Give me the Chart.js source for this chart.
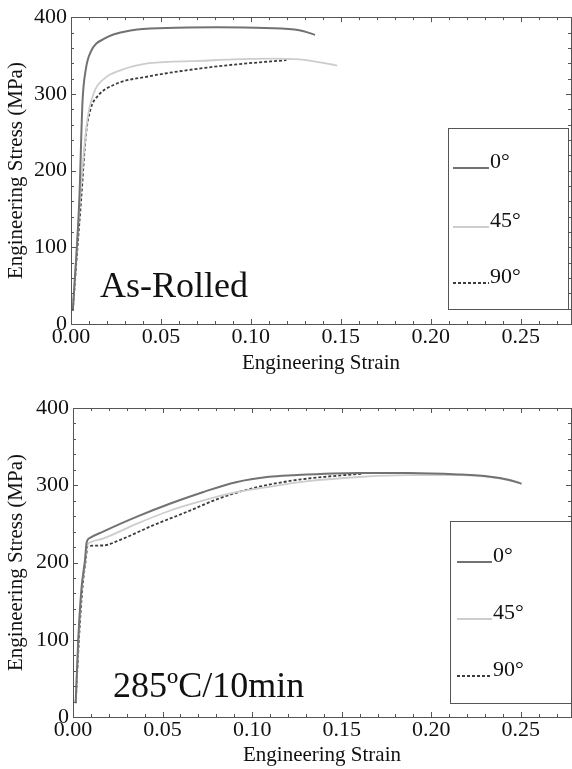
<!DOCTYPE html>
<html>
<head>
<meta charset="utf-8">
<script src="https://cdn.jsdelivr.net/npm/chart.js@4.4.1/dist/chart.umd.min.js"></script>
<style>
  html, body { margin: 0; padding: 0; background: #fff; }
  canvas { display: block; }
</style>
</head>
<body>
<canvas id="topChart" width="572" height="385"></canvas>
<canvas id="bottomChart" width="572" height="384"></canvas>
<script>
// series labels
var seriesNames = ['0°', '45°', '90°'];

// As-Rolled (strain, MPa)
var rolledStrain0 = [0.001, 0.0046, 0.0064, 0.0083, 0.011, 0.0185, 0.034, 0.053, 0.081, 0.108, 0.127, 0.1357];
var rolledStress0 = [17, 161, 290, 333, 355, 372, 383, 386, 387, 386, 383, 377];
var rolledStrain45 = [0.001, 0.0037, 0.0064, 0.0092, 0.013, 0.0185, 0.0278, 0.0435, 0.0713, 0.0897, 0.11, 0.127, 0.148];
var rolledStress45 = [17, 118, 204, 268, 303, 320, 331, 340, 343, 345, 346, 345, 337];
var rolledStrain90 = [0.001, 0.0028, 0.0056, 0.0083, 0.011, 0.0148, 0.024, 0.0435, 0.0713, 0.0897, 0.1198];
var rolledStress90 = [17, 75, 161, 247, 281, 297, 312, 323, 333, 338, 344];

// 285ºC/10min
var annealStrain0 = [0.0015, 0.003, 0.0048, 0.0067, 0.0076, 0.0095, 0.0168, 0.0354, 0.054, 0.0724, 0.091, 0.1094, 0.1224, 0.159, 0.187, 0.215, 0.233, 0.243, 0.2504];
var annealStress0 = [18, 103, 168, 203, 226, 232, 240, 259, 276, 291, 304, 311, 313, 316, 316, 314, 311, 307, 302];
var annealStrain45 = [0.0015, 0.003, 0.0048, 0.0067, 0.0076, 0.0095, 0.0168, 0.0354, 0.054, 0.0724, 0.091, 0.1094, 0.13, 0.162, 0.187, 0.215, 0.235, 0.249];
var annealStress45 = [18, 100, 165, 200, 220, 226, 231, 250, 267, 280, 291, 298, 305, 311, 313, 313, 310, 304];
var annealStrain90 = [0.0015, 0.0033, 0.0052, 0.0072, 0.0081, 0.0168, 0.026, 0.0446, 0.063, 0.0817, 0.1, 0.1224, 0.141, 0.162];
var annealStress90 = [18, 100, 165, 205, 221, 222, 229, 248, 265, 283, 296, 306, 311, 315];

// axes
var strainMax = 0.278;
var strainStep = 0.01;
var stressMax = 400;
var stressStep = 20;

var FONT = "'Liberation Serif', 'DejaVu Serif', serif";

function toPoints(xs, ys) {
    var pts = [];
    for (var i = 0; i < xs.length; i++) pts.push({x: xs[i], y: ys[i]});
    return pts;
}

var lineStyles = [
    {borderColor: '#727272', borderWidth: 2, borderDash: []},
    {borderColor: '#cdcdcd', borderWidth: 1.8, borderDash: []},
    {borderColor: '#3c3c3c', borderWidth: 1.8, borderDash: [3, 2]}
];

function makeDatasets(list) {
    return list.map(function (s, i) {
        return {
            label: seriesNames[i],
            data: toPoints(s[0], s[1]),
            borderColor: lineStyles[i].borderColor,
            borderWidth: lineStyles[i].borderWidth,
            borderDash: lineStyles[i].borderDash,
            pointRadius: 0,
            fill: false,
            cubicInterpolationMode: 'monotone'
        };
    });
}

// frame, inward ticks, legend box and note text
var framePlugin = {
    id: 'frame',
    afterDraw: function (chart, args, opts) {
        var ctx = chart.ctx;
        var a = chart.chartArea;
        var xs = chart.scales.x, ys = chart.scales.y;
        ctx.save();
        ctx.strokeStyle = '#555';
        ctx.lineWidth = 1;
        ctx.setLineDash([]);
        ctx.strokeRect(Math.round(a.left) + 0.5, Math.round(a.top) + 0.5,
            Math.round(a.right - a.left), Math.round(a.bottom - a.top));

        ctx.beginPath();
        xs.ticks.forEach(function (t) {
            var p = Math.round(xs.getPixelForValue(t.value)) + 0.5;
            var len = t.label ? 5 : 3;
            ctx.moveTo(p, a.bottom); ctx.lineTo(p, a.bottom - len);
            ctx.moveTo(p, a.top); ctx.lineTo(p, a.top + len);
        });
        ys.ticks.forEach(function (t) {
            var p = Math.round(ys.getPixelForValue(t.value)) + 0.5;
            var len = t.label ? 5 : 3;
            ctx.moveTo(a.left, p); ctx.lineTo(a.left + len, p);
            ctx.moveTo(a.right, p); ctx.lineTo(a.right - len, p);
        });
        ctx.stroke();

        // legend
        var L = opts.legend;
        ctx.fillStyle = '#fff';
        ctx.fillRect(L.x, L.y, L.w, L.h);
        ctx.strokeStyle = '#555';
        ctx.strokeRect(L.x + 0.5, L.y + 0.5, L.w, L.h);
        ctx.font = '22px ' + FONT;
        ctx.textBaseline = 'alphabetic';
        ctx.textAlign = 'left';
        chart.data.datasets.forEach(function (ds, i) {
            var yy = L.rows[i];
            ctx.strokeStyle = ds.borderColor;
            ctx.lineWidth = ds.borderWidth;
            ctx.setLineDash(ds.borderDash || []);
            ctx.beginPath();
            ctx.moveTo(L.lineX0, yy);
            ctx.lineTo(L.lineX1, yy);
            ctx.stroke();
            ctx.fillStyle = '#111';
            ctx.fillText(ds.label, L.lineX1 + 1, yy);
        });
        ctx.setLineDash([]);

        // note
        ctx.fillStyle = '#111';
        ctx.font = '36px ' + FONT;
        ctx.fillText(opts.note.text, opts.note.x, opts.note.y);
        ctx.restore();
    }
};

function makeConfig(datasets, geo) {
    return {
        type: 'line',
        data: {datasets: datasets},
        options: {
            responsive: false,
            animation: false,
            devicePixelRatio: 1,
            layout: {padding: {left: 0, top: geo.top, right: 1, bottom: 0}},
            plugins: {
                legend: {display: false},
                tooltip: {enabled: false},
                frame: {legend: geo.legend, note: geo.note}
            },
            scales: {
                x: {
                    type: 'linear',
                    min: 0,
                    max: strainMax,
                    afterFit: function (s) { s.height = geo.xHeight; },
                    grid: {display: false, drawTicks: false},
                    border: {display: false},
                    ticks: {
                        stepSize: strainStep,
                        includeBounds: false,
                        autoSkip: false,
                        maxRotation: 0,
                        minRotation: 0,
                        padding: 0,
                        color: '#111',
                        font: {family: FONT, size: 22},
                        callback: function (v) {
                            var k = v * 20;
                            return Math.abs(k - Math.round(k)) < 1e-6 ? v.toFixed(2) : '';
                        }
                    },
                    title: {
                        display: true,
                        text: 'Engineering Strain',
                        color: '#111',
                        font: {family: FONT, size: 21},
                        padding: {top: 0, bottom: geo.titlePad}
                    }
                },
                y: {
                    min: 0,
                    max: stressMax,
                    afterFit: function (s) { s.width = geo.left; },
                    grid: {display: false, drawTicks: false},
                    border: {display: false},
                    ticks: {
                        stepSize: stressStep,
                        autoSkip: false,
                        padding: 4,
                        color: '#111',
                        font: {family: FONT, size: 22},
                        callback: function (v) { return v % 100 === 0 ? String(v) : ''; }
                    },
                    title: {
                        display: true,
                        text: 'Engineering Stress (MPa)',
                        color: '#111',
                        font: {family: FONT, size: 21},
                        padding: {top: 4, bottom: 0}
                    }
                }
            }
        },
        plugins: [framePlugin]
    };
}

new Chart(document.getElementById('topChart'), makeConfig(
    makeDatasets([[rolledStrain0, rolledStress0], [rolledStrain45, rolledStress45], [rolledStrain90, rolledStress90]]),
    {
        top: 15, left: 71, xHeight: 61, titlePad: 9,
        legend: {x: 448, y: 128, w: 120, h: 181, lineX0: 453, lineX1: 489, rows: [168, 227, 283]},
        note: {text: 'As-Rolled', x: 100, y: 297}
    }
));

new Chart(document.getElementById('bottomChart'), makeConfig(
    makeDatasets([[annealStrain0, annealStress0], [annealStrain45, annealStress45], [annealStrain90, annealStress90]]),
    {
        top: 23, left: 73, xHeight: 52, titlePad: 1,
        legend: {x: 450, y: 136, w: 121, h: 182, lineX0: 457, lineX1: 492, rows: [177, 234, 291]},
        note: {text: '285ºC/10min', x: 113, y: 312}
    }
));
</script>
</body>
</html>
